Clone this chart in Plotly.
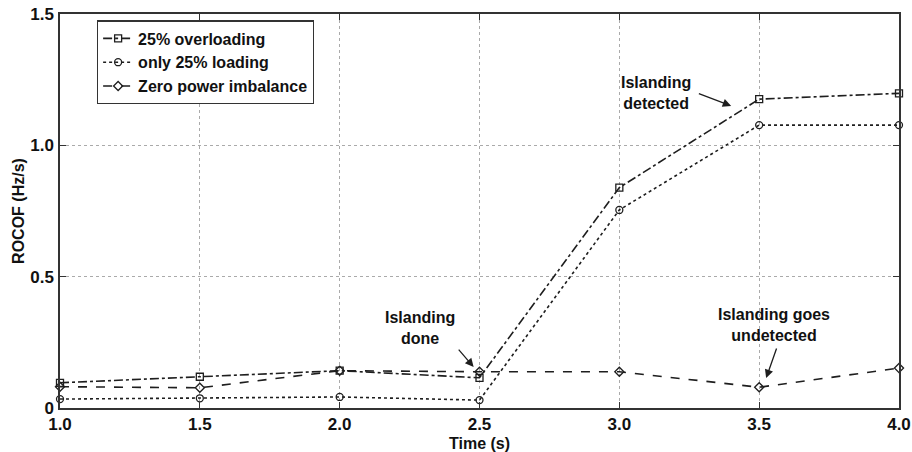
import plotly.graph_objects as go

# Sampling instants (s)
time_s = [1.0, 1.5, 2.0, 2.5, 3.0, 3.5, 4.0]

# ROCOF (Hz/s) for each operating case
rocof_overloading = [0.096, 0.119, 0.142, 0.115, 0.839, 1.176, 1.198]
rocof_loading = [0.034, 0.037, 0.042, 0.030, 0.754, 1.077, 1.077]
rocof_zero_imbalance = [0.081, 0.077, 0.142, 0.138, 0.138, 0.079, 0.152]

series_names = ["25% overloading", "only 25% loading", "Zero power imbalance"]

x_ticks = [1.0, 1.5, 2.0, 2.5, 3.0, 3.5, 4.0]
x_tick_text = ["1.0", "1.5", "2.0", "2.5", "3.0", "3.5", "4.0"]
y_ticks = [0, 0.5, 1.0, 1.5]
y_tick_text = ["0", "0.5", "1.0", "1.5"]

FONT = "Arial, 'Liberation Sans', Helvetica, sans-serif"
INK = "#1e1e1e"

fig = go.Figure()

styles = [
    (rocof_overloading, "dashdot", "square-open"),
    (rocof_loading, "dot", "circle-open"),
    (rocof_zero_imbalance, "dash", "diamond-open"),
]
for name, (vals, dash, sym) in zip(series_names, styles):
    fig.add_trace(go.Scatter(
        x=time_s, y=vals, name=name, mode="lines+markers", cliponaxis=False,
        line=dict(color=INK, width=1.6, dash=dash),
        marker=dict(symbol=sym, size=7, color=INK, line=dict(color=INK, width=1.3)),
    ))

bold = dict(family=FONT, size=16, color="#111", weight="bold")
tickbold = dict(family=FONT, size=17, color="#111", weight="bold")

# Annotation texts with arrows pointing to the events
notes = [
    dict(text="Islanding<br>detected", x=3.132, y=1.199, tail=(3.279, 1.199), head=(3.400, 1.150)),
    dict(text="Islanding<br>done", x=2.289, y=0.305, tail=(2.421, 0.228), head=(2.479, 0.156)),
    dict(text="Islanding goes<br>undetected", x=3.554, y=0.316, tail=(3.564, 0.232), head=(3.525, 0.114)),
]
for n in notes:
    fig.add_annotation(x=n["x"], y=n["y"], text=n["text"], showarrow=False,
                       font=bold, align="center", xref="x", yref="y")
    fig.add_annotation(x=n["head"][0], y=n["head"][1], ax=n["tail"][0], ay=n["tail"][1],
                       xref="x", yref="y", axref="x", ayref="y", text="",
                       showarrow=True, arrowhead=2, arrowsize=1.3, arrowwidth=1.3,
                       arrowcolor=INK)

axis_common = dict(
    showline=True, linecolor="#333", linewidth=1.5, mirror="ticks",
    ticks="inside", ticklen=6, tickcolor="#333", tickwidth=1.2,
    showgrid=True, gridcolor="#aaaaaa", griddash="dot", gridwidth=1,
    zeroline=False, tickfont=tickbold, automargin=False,
)

fig.update_xaxes(range=[1.0, 4.0], tickvals=x_ticks, ticktext=x_tick_text,
                 title=dict(text="Time (s)", font=bold, standoff=5), **axis_common)
fig.update_yaxes(range=[0, 1.5], tickvals=y_ticks, ticktext=y_tick_text,
                 ticklabelstandoff=1,
                 title=dict(text="ROCOF (Hz/s)", font=bold, standoff=2), **axis_common)

fig.update_layout(
    width=912, height=452,
    margin=dict(l=60, r=13, t=14, b=44),
    paper_bgcolor="white", plot_bgcolor="white",
    font=dict(family=FONT),
    legend=dict(x=0.044, y=0.984, xanchor="left", yanchor="top",
                bgcolor="white", bordercolor="#333", borderwidth=1.2,
                font=bold, itemwidth=30, tracegroupgap=0),
)

fig.write_html("out.html")
